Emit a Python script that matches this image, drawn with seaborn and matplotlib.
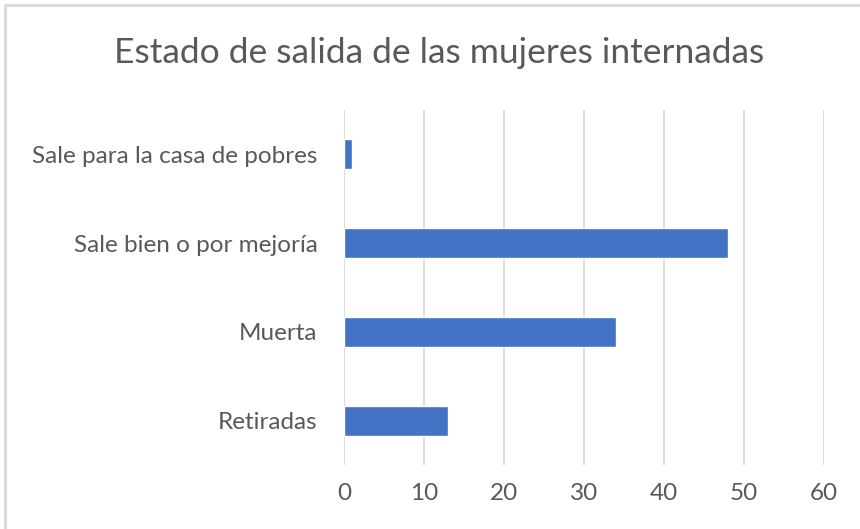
import matplotlib
matplotlib.use("Agg")
import matplotlib.pyplot as plt
import seaborn as sns
import pandas as pd
from matplotlib.patches import Rectangle

# data
categorias = ["Sale para la casa de pobres", "Sale bien o por mejoría", "Muerta", "Retiradas"]
valores = [1, 48, 34, 13]
ticks_x = [0, 10, 20, 30, 40, 50, 60]

df = pd.DataFrame({"Estado": categorias, "Cantidad": valores})

sns.set_style("white")
plt.rcParams['font.family'] = ['Lato', 'DejaVu Sans']

fig = plt.figure(figsize=(8.6, 5.29), dpi=100)
ax = fig.add_axes([0.4, 0.121, 0.558, 0.671])

sns.barplot(data=df, x="Cantidad", y="Estado", color="#4472C4", width=0.34,
            saturation=1, ax=ax, orient="h")

ax.set_xlim(0, 60)
ax.set_xticks(ticks_x)
ax.xaxis.grid(True, color="#d9d9d9", linewidth=1.3)
ax.set_axisbelow(True)
for s in ax.spines.values():
    s.set_visible(False)
ax.tick_params(axis="both", length=0, labelsize=17.5, labelcolor="#595959")
ax.tick_params(axis="y", pad=19)
ax.tick_params(axis="x", pad=13)
ax.set_xlabel("")
ax.set_ylabel("")

fig.text(0.511, 0.9, "Estado de salida de las mujeres internadas", ha="center", va="center",
         fontsize=25.5, color="#595959")

# light chart border like the original
fig.patches.append(Rectangle((0.006, -0.01), 1.2, 1.0, transform=fig.transFigure,
                             fill=False, edgecolor="#d9d9d9", linewidth=2))

plt.savefig("out.png", dpi=100)
